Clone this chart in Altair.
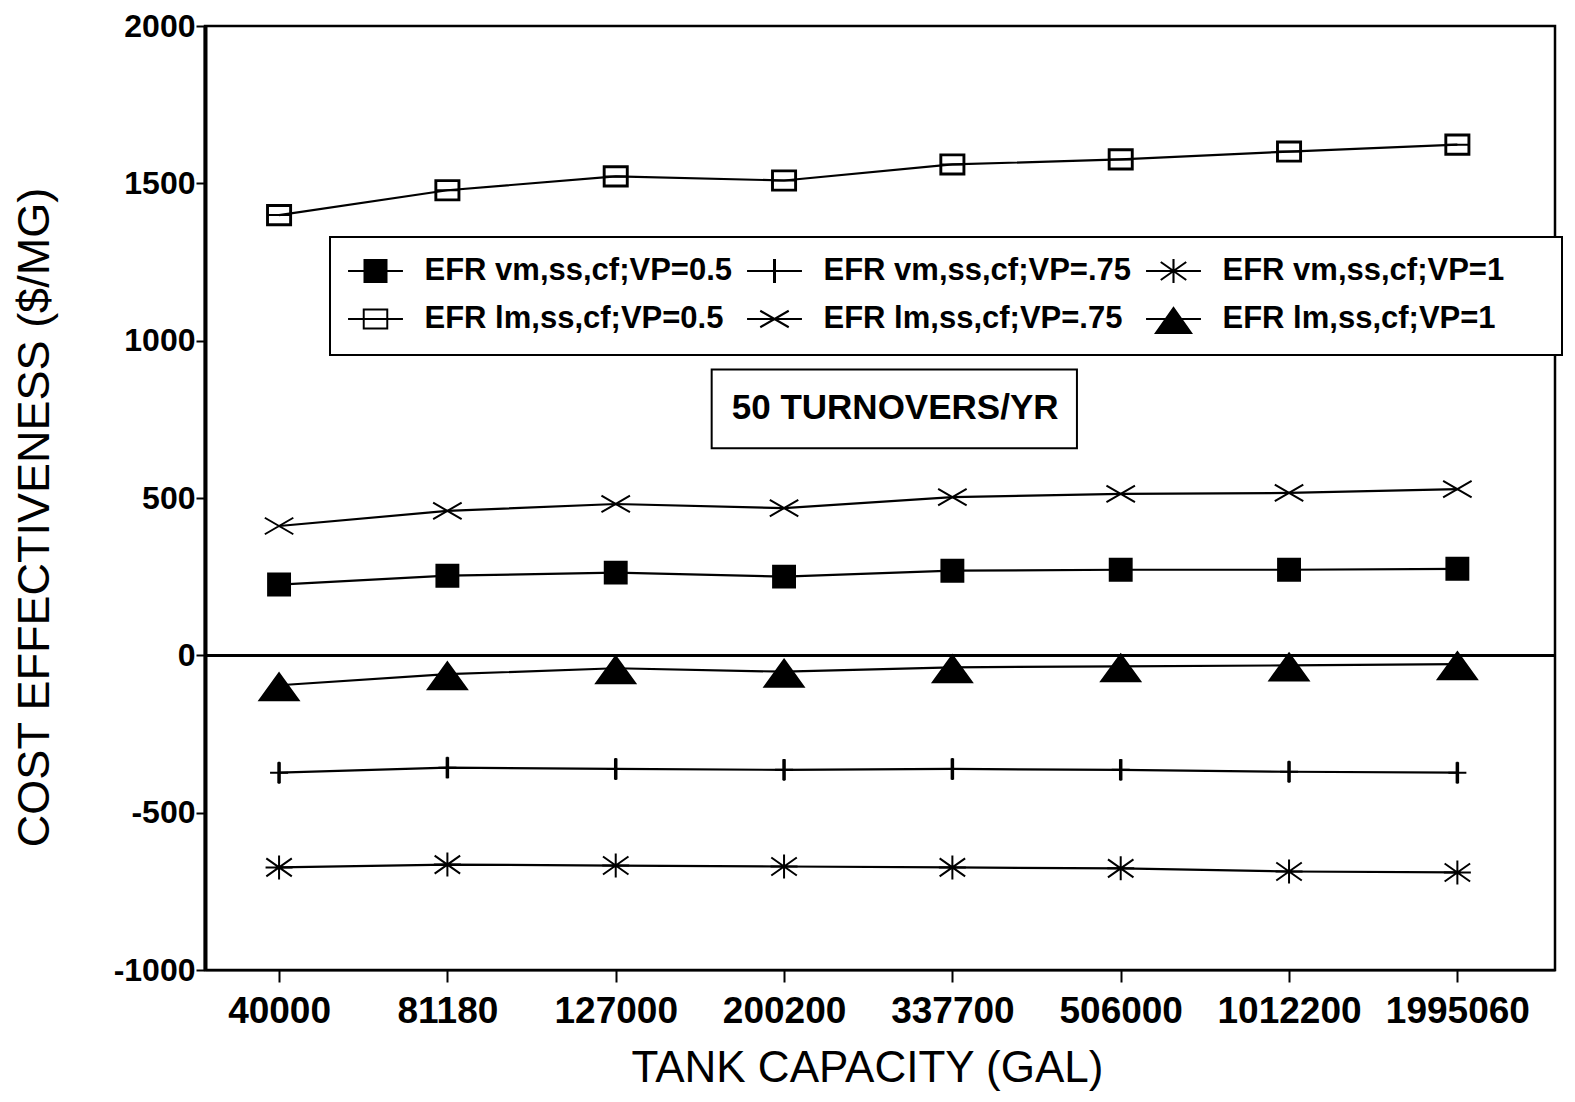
import math
import altair as alt
import pandas as pd

# ---------------- data ----------------
capacities = ["40000", "81180", "127000", "200200", "337700", "506000", "1012200", "1995060"]

series_names = [
    "EFR vm,ss,cf;VP=0.5",
    "EFR vm,ss,cf;VP=.75",
    "EFR vm,ss,cf;VP=1",
    "EFR lm,ss,cf;VP=0.5",
    "EFR lm,ss,cf;VP=.75",
    "EFR lm,ss,cf;VP=1",
]
# legend is filled column by column (2 rows x 3 columns)
legend_order = [
    "EFR vm,ss,cf;VP=0.5",
    "EFR lm,ss,cf;VP=0.5",
    "EFR vm,ss,cf;VP=.75",
    "EFR lm,ss,cf;VP=.75",
    "EFR vm,ss,cf;VP=1",
    "EFR lm,ss,cf;VP=1",
]

vm_vp05 = [225, 253, 263, 250, 269, 272, 272, 275]
vm_vp075 = [-373, -357, -361, -364, -361, -364, -370, -373]
vm_vp1 = [-674, -665, -668, -671, -674, -677, -687, -690]
lm_vp05 = [1399, 1478, 1522, 1509, 1560, 1576, 1601, 1623]
lm_vp075 = [411, 459, 481, 468, 503, 513, 516, 528]
lm_vp1 = [-95, -60, -41, -52, -38, -35, -32, -28]

y_ticks = [-1000, -500, 0, 500, 1000, 1500, 2000]

annotation_text = ["50 TURNOVERS/YR"]
annotation_x = [3.66]
annotation_y = [785]
annotation_box_x = [2.57]
annotation_box_x2 = [4.74]
annotation_box_y = [908]
annotation_box_y2 = [658]

# ---------------- tables ----------------
rows = []
for name, vals in zip(series_names, [vm_vp05, vm_vp075, vm_vp1, lm_vp05, lm_vp075, lm_vp1]):
    for i, (cap, v) in enumerate(zip(capacities, vals)):
        rows.append({"series": name, "idx": i, "capacity": cap, "value": v})
df = pd.DataFrame(rows)

ann_df = pd.DataFrame({"label": annotation_text, "x": annotation_x, "y": annotation_y})
box_df = pd.DataFrame({"x": annotation_box_x, "x2": annotation_box_x2,
                       "y": annotation_box_y, "y2": annotation_box_y2})


# ---------------- symbol shapes ----------------
def poly(pts, orient=1):
    area = 0.0
    for (x1, y1), (x2, y2) in zip(pts, pts[1:] + pts[:1]):
        area += x1 * y2 - x2 * y1
    if (area > 0) != (orient > 0):
        pts = pts[::-1]
    return "M" + "L".join("%.3f,%.3f" % p for p in pts) + "Z"


def seg(x1, y1, x2, y2, w=0.14):
    dx, dy = x2 - x1, y2 - y1
    L = math.hypot(dx, dy)
    nx, ny = -dy / L * w / 2, dx / L * w / 2
    return poly([(x1 + nx, y1 + ny), (x2 + nx, y2 + ny), (x2 - nx, y2 - ny), (x1 - nx, y1 - ny)])


def rect(hw, hh, orient=1):
    return poly([(-hw, -hh), (hw, -hh), (hw, hh), (-hw, hh)], orient)


# stroked markers for the plot
marker_paths_by_name = {
    "EFR vm,ss,cf;VP=0.5": "M-0.73,-0.73L0.73,-0.73L0.73,0.73L-0.73,0.73Z",
    "EFR vm,ss,cf;VP=.75": "M-0.6,0L0.6,0M0,-0.73L0,0.73M0.05,-0.7L0.05,0.7M-0.05,-0.7L-0.05,0.7",
    "EFR vm,ss,cf;VP=1": "M-0.9,0L0.9,0M-0.85,-0.6L0.85,0.6M-0.85,0.6L0.85,-0.6M0,-0.8L0,0.8",
    "EFR lm,ss,cf;VP=0.5": "M-0.8,0L0.8,0M-0.8,-0.67L0.8,-0.67L0.8,0.67L-0.8,0.67ZM-0.74,-0.61L-0.74,0.61L0.74,0.61L0.74,-0.61Z",
    "EFR lm,ss,cf;VP=.75": "M-0.95,-0.55L0.95,0.55M-0.95,0.55L0.95,-0.55",
    "EFR lm,ss,cf;VP=1": "M0,-0.8L1.3,1L-1.3,1Z",
}

# legend symbols built only from filled outlines (line through the marker)
hline = seg(-1.83, 0, 1.83, 0)
legend_paths_by_name = {
    "EFR vm,ss,cf;VP=0.5": hline + rect(0.8, 0.8),
    "EFR vm,ss,cf;VP=.75": hline + seg(0, -0.8, 0, 0.8, 0.2),
    "EFR vm,ss,cf;VP=1": hline + seg(-0.85, -0.6, 0.85, 0.6) + seg(-0.85, 0.6, 0.85, -0.6) + seg(0, -0.8, 0, 0.8),
    "EFR lm,ss,cf;VP=0.5": hline + rect(0.85, 0.7) + rect(0.72, 0.57, -1),
    "EFR lm,ss,cf;VP=.75": hline + seg(-0.95, -0.55, 0.95, 0.55) + seg(-0.95, 0.55, 0.95, -0.55),
    "EFR lm,ss,cf;VP=1": hline + poly([(0, -0.85), (1.3, 1.0), (-1.3, 1.0)]),
}

marker_paths = [marker_paths_by_name[n] for n in legend_order]
legend_paths = [legend_paths_by_name[n] for n in legend_order]

# ---------------- scales / axes ----------------
W, H = 1350, 944
xscale = alt.Scale(domain=[-0.44, 7.58], nice=False, zero=False)
yscale = alt.Scale(domain=[-1000, 2000], nice=False, zero=False)

label_expr = "[" + ",".join("'%s'" % c for c in capacities) + "][datum.value]"

x_axis = alt.Axis(
    values=list(range(len(capacities))), labelExpr=label_expr, title="TANK CAPACITY (GAL)",
    grid=False, domainColor="black", domainWidth=2, tickColor="black", tickWidth=2, tickSize=12,
    labelFont="Liberation Sans", labelFontSize=37, labelFontWeight="bold", labelColor="black",
    labelPadding=11, labelFlush=False,
    titleFont="Liberation Sans", titleFontSize=44, titleFontWeight="normal",
    titleColor="black", titlePadding=17, titleX=662,
)
y_axis = alt.Axis(
    values=y_ticks, labelExpr="datum.value + ''", title="COST EFFECTIVENESS ($/MG)", grid=False,
    domainColor="black", domainWidth=4, tickColor="black", tickWidth=2, tickSize=9,
    labelFont="Liberation Sans", labelFontSize=32, labelFontWeight="bold", labelColor="black",
    labelPadding=1,
    titleFont="Liberation Sans", titleFontSize=45, titleFontWeight="normal",
    titleColor="black", titlePadding=56, titleY=491,
)


def X(field):
    return alt.X(field, type="quantitative", scale=xscale, axis=x_axis)


def Y(field):
    return alt.Y(field, type="quantitative", scale=yscale, axis=y_axis)


lines = alt.Chart(df).mark_line(color="black", strokeWidth=2.2).encode(
    x=X("idx"), y=Y("value"), detail="series:N"
)

points = alt.Chart(df).mark_point(
    filled=True, color="black", stroke="black", strokeWidth=2, opacity=1, size=900
).encode(
    x=X("idx"), y=Y("value"),
    shape=alt.Shape("series:N", scale=alt.Scale(domain=legend_order, range=marker_paths), legend=None),
)

legend_layer = alt.Chart(df).transform_filter("false").mark_point(
    filled=True, color="black", opacity=1, size=900
).encode(
    x=X("idx"), y=Y("value"),
    shape=alt.Shape(
        "series:N",
        scale=alt.Scale(domain=legend_order, range=legend_paths),
        legend=alt.Legend(
            orient="none", legendX=125, legendY=211, columns=3,
            title="\u00a0", titleOrient="right", titlePadding=40, titleFontSize=2,
            strokeColor="black", fillColor="white", padding=18,
            labelFont="Liberation Sans", labelFontSize=31, labelFontWeight="bold",
            labelColor="black", labelLimit=600, labelOffset=33,
            symbolSize=900, symbolFillColor="black", symbolOpacity=1, symbolOffset=11.5,
            columnPadding=11, rowPadding=17, gridAlign="each",
        ),
    ),
)

zero_rule = alt.Chart(df).mark_rule(color="black", strokeWidth=2).encode(
    y=alt.Y(datum=0, type="quantitative", scale=yscale, axis=y_axis)
)

box = alt.Chart(box_df).mark_rect(fillOpacity=0, stroke="black", strokeWidth=2).encode(
    x=X("x"), x2="x2", y=Y("y"), y2="y2"
)

ann = alt.Chart(ann_df).mark_text(
    font="Liberation Sans", fontSize=35, fontWeight="bold", color="black",
    align="center", baseline="middle"
).encode(x=X("x"), y=Y("y"), text="label:N")

chart = (
    alt.layer(box, ann, zero_rule, lines, points, legend_layer)
    .resolve_scale(shape="independent")
    .properties(
        width=W, height=H,
        padding={"left": 197, "top": 18, "right": 12, "bottom": 124},
        autosize=alt.AutoSizeParams(type="none"),
        background="white",
    )
    .configure_view(stroke="black", strokeWidth=2.5)
    .configure_legend(strokeWidth=2)
)

chart.save("out.html", embed_options={"renderer": "svg", "actions": False})
